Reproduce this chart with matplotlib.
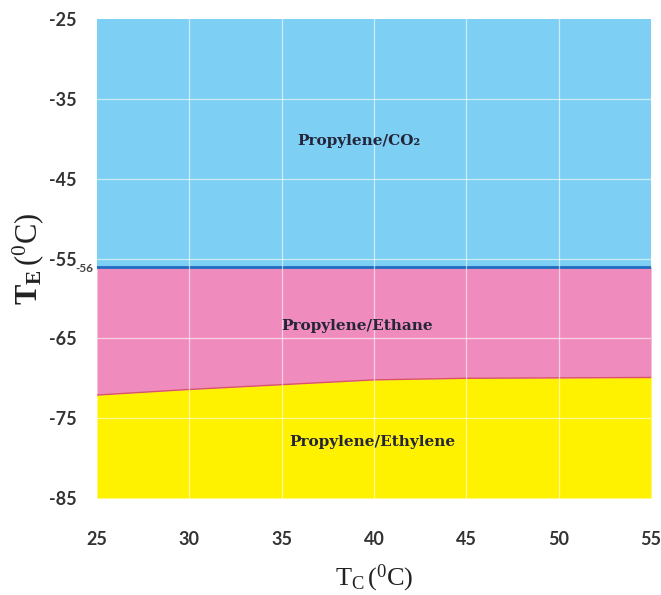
import numpy as np
import matplotlib.pyplot as plt

# === Data ===
tc = [25, 30, 35, 40, 45, 50, 55]                                  # condenser temperature (°C)
te_boundary = [-72.1, -71.4, -70.8, -70.2, -70.0, -69.95, -69.9]  # ethane / ethylene boundary (°C)
te_co2 = -56                                                       # CO2 triple point limit (°C)
te_min, te_max = -85, -25

region_labels = ["Propylene/CO\u2082", "Propylene/Ethane", "Propylene/Ethylene"]
label_pos = [(39.2, -40.3), (39.1, -63.5), (39.9, -78.0)]

x_ticks = [25, 30, 35, 40, 45, 50, 55]
y_ticks = [-25, -35, -45, -55, -65, -75, -85]

# === Colours ===
c_blue = "#7dd0f3"
c_pink = "#f08cbd"
c_yellow = "#fff200"

plt.rcParams["axes.unicode_minus"] = False
plt.rcParams["mathtext.fontset"] = "custom"
plt.rcParams["mathtext.rm"] = "Liberation Serif"
plt.rcParams["mathtext.it"] = "Liberation Serif:italic"
plt.rcParams["mathtext.bf"] = "Liberation Serif:bold"

fig = plt.figure(figsize=(6.61, 5.95), dpi=100)
ax = fig.add_axes([0.1467, 0.163, 0.8383, 0.805])

# filled regions
ax.fill_between(tc, te_co2, te_max, color=c_blue, lw=0)
ax.fill_between(tc, te_boundary, te_co2, color=c_pink, lw=0)
ax.fill_between(tc, te_min, te_boundary, color=c_yellow, lw=0)

# boundary lines
ax.plot(tc, te_boundary, color="#d9546a", lw=1.0)
ax.axhline(te_co2, color="#1f6cc0", lw=2.0)

ax.set_xlim(25, 55)
ax.set_ylim(te_min, te_max)

# white grid over the fills
for x in x_ticks[1:-1]:
    ax.axvline(x, color="white", lw=0.9, alpha=0.6)
for y in y_ticks[1:-1]:
    ax.axhline(y, color="white", lw=0.9, alpha=0.6)

for (x, y), txt in zip(label_pos, region_labels):
    ax.text(x, y, txt, ha="center", va="center", fontsize=11,
            family="DejaVu Serif", fontweight="bold", color="#25253a")

ax.set_xticks(x_ticks)
ax.set_yticks(y_ticks)
ax.tick_params(length=0, labelsize=13, labelcolor="#333333")
ax.tick_params(axis="x", pad=24)
ax.tick_params(axis="y", pad=15)
for lab in ax.get_xticklabels() + ax.get_yticklabels():
    lab.set_fontfamily("Lato")
    lab.set_fontweight("bold")

ax.text(24.8, te_co2 - 0.3, "-56", ha="right", va="center", fontsize=8.5,
        color="#444444", fontweight="bold", family="Lato")

for s in ax.spines.values():
    s.set_visible(False)

ax.set_xlabel(r"$\mathrm{T_C\,(^0C)}$", fontsize=19, labelpad=10, color="#222222")
ax.set_ylabel(r"$\mathbf{T_E}\,\mathrm{(^0C)}$", fontsize=22, labelpad=2, color="#222222")

fig.savefig("out.png", dpi=100)
